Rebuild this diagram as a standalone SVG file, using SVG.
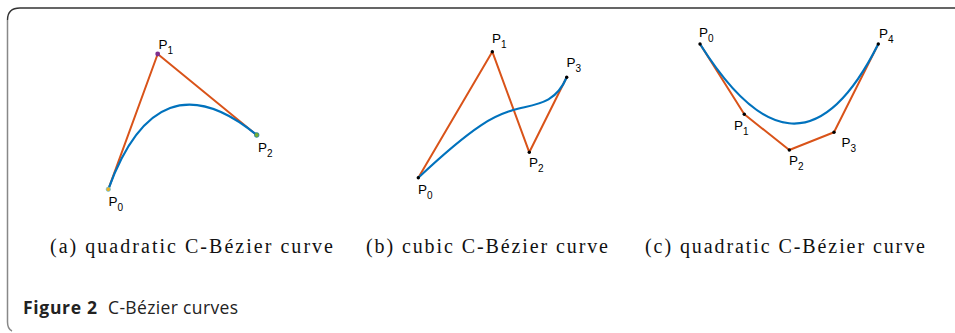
<svg xmlns="http://www.w3.org/2000/svg" width="955" height="333" viewBox="0 0 955 333">
<style>
.poly{fill:none;stroke:#D95319;stroke-width:2;stroke-linejoin:round}
.crv{fill:none;stroke:#0072BD;stroke-width:2.2}
.lbl{font-family:"Liberation Sans",Arial,sans-serif;font-size:13.5px;fill:#000}
.sub{font-size:10px}
.cap{font-family:"Liberation Serif","Times New Roman",serif;font-size:20px;fill:#111}
.fig{font-family:"Open Sans","Noto Sans",sans-serif;font-size:17.5px;fill:#222}
.dot{fill:#000}
</style>
<rect width="955" height="333" fill="#fff"/>
<g id="frame">
<path d="M7.5,20 Q7.5,8 20,8 L955,8" fill="none" stroke="#333" stroke-width="1.4"/>
<path d="M7.5,20 L7.5,322 Q7.5,329 12,331" fill="none" stroke="#888" stroke-width="1.5"/>
</g>
<g id="connectors">
<polyline class="poly" points="108.3,189.3 157.7,54 256.7,135"/>
<path class="crv" d="M108.3,189.3 Q157.7,54 256.7,135"/>
<polyline class="poly" points="418.3,177.7 492.3,51.7 529.3,152.3 566.7,77.3"/>
<path class="crv" d="M418.3,177.7 C485,115 500,115 513,110 C535,104 555,105 566.7,77.3"/>
<polyline class="poly" points="700,44 744.3,114.3 789.3,150 834,132.3 878.3,44"/>
<path class="crv" d="M700,44 C759,137.7 819.2,161.7 878.3,44"/>
</g>
<g id="panel-a">
<circle cx="108.3" cy="189.3" r="2.2" fill="#EDB120" stroke="#4DBEEE" stroke-width="0.6"/>
<circle cx="157.7" cy="54" r="2.4" fill="#7E2F8E"/>
<circle cx="256.7" cy="135" r="2.4" fill="#77AC30" stroke="#0072BD" stroke-width="0.6"/>
<text class="lbl" x="108.5" y="205.7">P<tspan class="sub" dy="5">0</tspan></text>
<text class="lbl" x="158.5" y="49">P<tspan class="sub" dy="5">1</tspan></text>
<text class="lbl" x="258" y="151.7">P<tspan class="sub" dy="5">2</tspan></text>
</g>
<g id="panel-b">
<circle class="dot" cx="418.3" cy="177.7" r="1.7"/>
<circle class="dot" cx="492.3" cy="51.7" r="1.7"/>
<circle class="dot" cx="529.3" cy="152.3" r="1.7"/>
<circle class="dot" cx="566.7" cy="77.3" r="1.7"/>
<text class="lbl" x="418" y="193.5">P<tspan class="sub" dy="5">0</tspan></text>
<text class="lbl" x="492" y="43">P<tspan class="sub" dy="5">1</tspan></text>
<text class="lbl" x="529" y="167">P<tspan class="sub" dy="5">2</tspan></text>
<text class="lbl" x="566.5" y="67">P<tspan class="sub" dy="5">3</tspan></text>
</g>
<g id="panel-c">
<circle class="dot" cx="700" cy="44" r="1.7"/>
<circle class="dot" cx="744.3" cy="114.3" r="1.7"/>
<circle class="dot" cx="789.3" cy="150" r="1.7"/>
<circle class="dot" cx="834" cy="132.3" r="1.7"/>
<circle class="dot" cx="878.3" cy="44" r="1.7"/>
<text class="lbl" x="699" y="37">P<tspan class="sub" dy="5">0</tspan></text>
<text class="lbl" x="879" y="38">P<tspan class="sub" dy="5">4</tspan></text>
<text class="lbl" x="734" y="130">P<tspan class="sub" dy="5">1</tspan></text>
<text class="lbl" x="789" y="165">P<tspan class="sub" dy="5">2</tspan></text>
<text class="lbl" x="841.5" y="147">P<tspan class="sub" dy="5">3</tspan></text>
</g>
<g id="captions">
<text class="cap" x="50" y="253" textLength="283" lengthAdjust="spacing">(a) quadratic C-Bézier curve</text>
<text class="cap" x="366" y="253" textLength="242" lengthAdjust="spacing">(b) cubic C-Bézier curve</text>
<text class="cap" x="645" y="253" textLength="280" lengthAdjust="spacing">(c) quadratic C-Bézier curve</text>
<text class="fig" x="23" y="314"><tspan font-weight="bold" textLength="74" lengthAdjust="spacing">Figure 2</tspan><tspan x="108" textLength="130" lengthAdjust="spacing">C-Bézier curves</tspan></text>
</g>
</svg>
